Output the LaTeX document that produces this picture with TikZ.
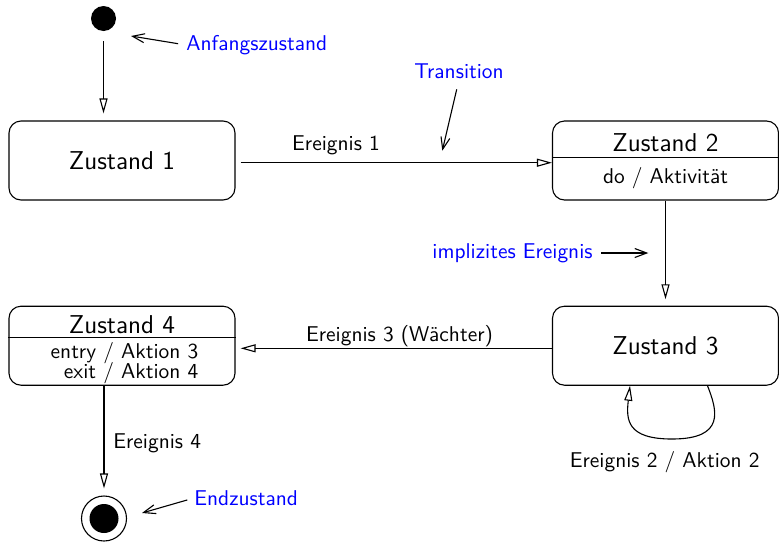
\documentclass[tikz,border=0pt]{standalone}
\usetikzlibrary{arrows.meta,calc}
\begin{document}
\begin{tikzpicture}[x=0.5pt,y=-0.5pt,
  every node/.style={font=\sffamily\fontsize{10.7pt}{12.8pt}\selectfont, inner sep=0pt},
  statebox/.style={draw, line width=0.55pt, rounded corners=6pt, minimum width=113pt, minimum height=39.5pt},
  big/.style={font=\sffamily\fontsize{12.9pt}{15.5pt}\selectfont},
  note/.style={text=blue},
  trans/.style={line width=0.55pt, -{Triangle[open,length=7.5pt,width=4pt]}},
  pointer/.style={line width=0.55pt, -{Straight Barb[length=6pt,width=4.5pt]}},
  dot/.style={circle, fill, minimum size=12.5pt, inner sep=0pt},
  sep/.style={line width=0.55pt},
]
\useasboundingbox (0,0) rectangle (779,541);

% states
\node[dot] (init) at (103.5,18.5) {};
\node[statebox,big] (z1) at (122,160.5) {Zustand 1};

\node[statebox] (z2) at (665.5,160.5) {};
\node[big] (z2t) at (665.5,143) {Zustand 2};
\node (z2a) at (665.5,178.5) {do / Aktivit\"at};
\draw[sep] ($(z2.west)+(0,-3.2)$) -- ($(z2.east)+(0,-3.2)$);

\node[statebox,big] (z3) at (665.5,345.7) {Zustand 3};

\node[statebox] (z4) at (122,345.7) {};
\node[big] (z4t) at (122,325) {Zustand 4};
\node (z4a) at (124.5,363) {\begin{tabular}{@{}r@{\ /\ }l@{}}entry & Aktion 3\\[-2.8pt] exit & Aktion 4\end{tabular}};
\draw[sep] ($(z4.west)+(0,-8)$) -- ($(z4.east)+(0,-8)$);

\node[circle, draw, line width=0.55pt, minimum size=22.5pt] (fin) at (104,518.5) {};
\node[dot, minimum size=14.5pt] (finin) at (104,518.5) {};

% transitions
\draw[trans, shorten <=5pt, shorten >=3.5pt] (init) -- (init |- z1.north);
\draw[trans, shorten <=2.5pt] ($(z1.east)+(0,2.2)$) -- ($(z2.west)+(0,2.2)$);
\node (e1) at (336,145.5) {Ereignis 1};
\draw[trans, shorten >=3.2pt] (z2) -- (z3);
\draw[trans, shorten >=2.5pt] ($(z3.west)+(0,2.6)$) -- ($(z4.east)+(0,2.6)$);
\node (e3) at (399.5,336) {Ereignis 3 (W\"achter)};
\draw[trans] ($(z3.south)+(42,0)$) .. controls (717,410) and (726,439) .. (672,439)
  .. controls (627,439) and (626,420) .. ($(z3.south)+(-35.5,0)$);
\node (e2) at (664.7,462.3) {Ereignis 2 / Aktion 2};
\draw[trans, shorten >=3.5pt] (z4.south -| fin) -- (fin);
\node[anchor=west] (e4) at (113,443) {Ereignis 4};

% annotations
\node[note, anchor=west] (anf) at (186,45) {Anfangszustand};
\coordinate (anfp) at (131,36);
\draw[pointer, shorten <=4pt] (anf.west) -- (anfp);

\node[note] (tr) at (459,71.7) {Transition};
\coordinate (trp) at (442.3,150.7);
\draw[pointer, shorten <=5pt] (tr.south) -- (trp);

\node[note, anchor=east] (imp) at (593,253) {implizites Ereignis};
\coordinate (impp) at (648.3,253);
\draw[pointer, shorten <=4pt] (imp.east) -- (impp);

\node[note, anchor=west] (endz) at (194,498) {Endzustand};
\coordinate (endp) at (142,513);
\draw[pointer, shorten <=3.5pt] (endz.west) -- (endp);
\end{tikzpicture}
\end{document}
